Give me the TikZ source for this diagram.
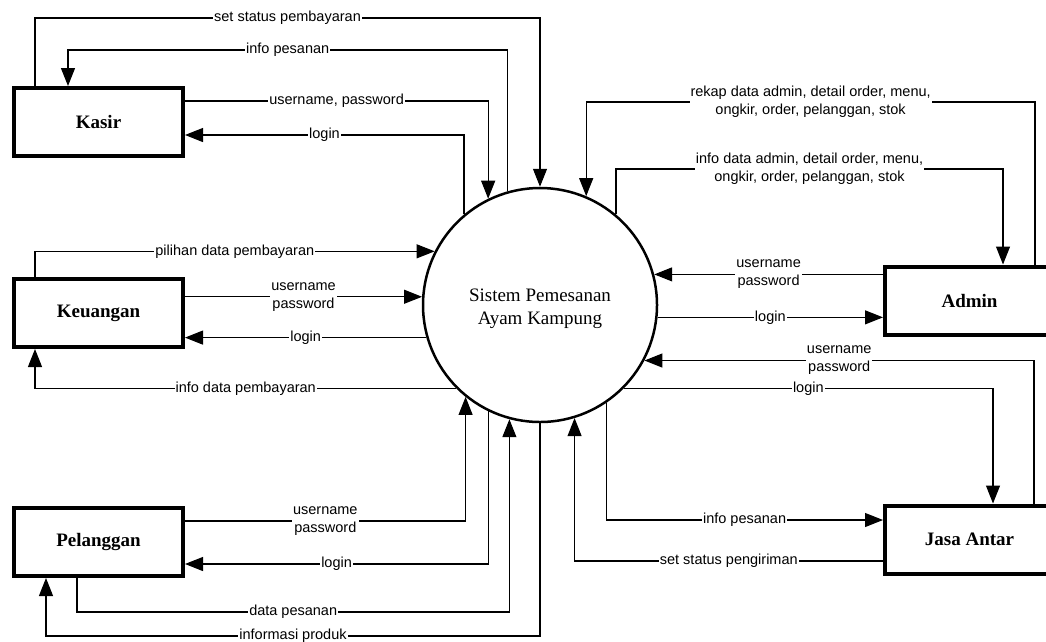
\documentclass[tikz,border=0pt]{standalone}
\usepackage{fontspec}
\setmainfont{Liberation Serif}
\newfontfamily\lblfont{Liberation Sans}
\usetikzlibrary{arrows.meta}
\tikzset{
    entity/.style={draw, line width=4pt, minimum width=169pt, minimum height=68pt,
        font=\fontsize{19}{23}\selectfont\bfseries},
    process/.style={draw, circle, line width=2.5pt, minimum size=234pt, inner sep=0pt},
    proctext/.style={align=center, yshift=-4pt, font=\fontsize{19}{23}\selectfont},
    flow/.style={line width=1.1pt, -{Triangle[length=18pt,width=14pt]}},
    lbl/.style={fill=white, inner sep=1pt, align=center,
        font=\lblfont\fontsize{14.5}{18}\selectfont}
}
\begin{document}
\begin{tikzpicture}[x=1pt,y=-1pt]
    \useasboundingbox (0,0) rectangle (1046,641);
    \node[process, label={[proctext]center:Sistem Pemesanan\\Ayam Kampung}] (sys) at (540,305) {};
    \node[entity] (kasir) at (98.5,122) {Kasir};
    \node[entity] (keu) at (98.5,313) {Keuangan};
    \node[entity] (pel) at (98.5,542) {Pelanggan};
    \node[entity] (admin) at (969.5,300.5) {Admin};
    \node[entity] (jasa) at (969.5,539.5) {Jasa Antar};

    \draw[flow] (kasir.north -| 35,0) |- node[lbl,pos=.75]{set status pembayaran} (sys.90 |- 0,18) -- (sys.90);
    \draw[flow] (sys.106.4) |- node[lbl,pos=.75]{info pesanan} (68,50) -- (kasir.north -| 68,0);
    \draw[flow] (kasir.east |- 0,101) -| node[lbl,pos=.25]{username, password} (sys.116.4);
    \draw[flow] (sys.130) |- node[lbl,pos=.75]{login} (kasir.east |- 0,135);

    \draw[flow] (keu.north -| 35,0) |- node[lbl,pos=.75]{pilihan data pembayaran} (sys.153.6);
    \draw[flow] (keu.east |- sys.176.1) -- node[lbl]{username\\password} (sys.176.1);
    \draw[flow] (sys.-164.1) -- node[lbl]{login} (keu.east |- sys.-164.1);
    \draw[flow] (sys.-135.5) -| node[lbl,pos=.25]{info data pembayaran} (keu.south -| 35,0);

    \draw[flow] (pel.east |- 0,521) -| node[lbl,pos=.25]{username\\password} (sys.-129.2);
    \draw[flow] (sys.-116.4) |- node[lbl,pos=.75]{login} (pel.east |- 0,564);
    \draw[flow] (pel.south -| 77,0) |- node[lbl,pos=.75]{data pesanan} (sys.-105.9 |- 0,612) -- (sys.-105.9);
    \draw[flow] (sys.-90) |- node[lbl,pos=.75]{informasi produk} (46,636) -- (pel.south -| 46,0);

    \draw[flow] (admin.north -| 1035,0) |- node[lbl,pos=.75]{rekap data admin, detail order, menu,\\ongkir, order, pelanggan, stok} (sys.67.9 |- 0,102) -- (sys.67.9);
    \draw[flow] (sys.50.1) |- node[lbl,pos=.75]{info data admin, detail order, menu,\\ongkir, order, pelanggan, stok} (1003,169) -- (admin.north -| 1003,0);
    \draw[flow] (admin.west |- sys.15.9) -- node[lbl]{username\\password} (sys.15.9);
    \draw[flow] (sys.-6.4) -- node[lbl]{login} (admin.west |- sys.-6.4);

    \draw[flow] (jasa.north -| 1034,0) |- node[lbl,pos=.75]{username\\password} (sys.-28);
    \draw[flow] (sys.-45.9) -| node[lbl,pos=.25]{login} (jasa.north -| 993,0);
    \draw[flow] (sys.-56.3) |- node[lbl,pos=.75]{info pesanan} (jasa.west |- 0,520);
    \draw[flow] (jasa.west |- 0,561) -| node[lbl,pos=.25]{set status pengiriman} (sys.-73.1);
\end{tikzpicture}
\end{document}
